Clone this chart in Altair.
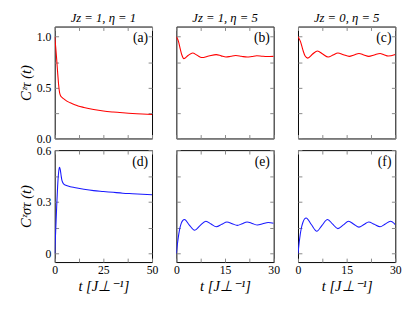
import altair as alt
import pandas as pd

# ---------------- data ----------------
t_a = [0, 0.5, 1, 1.5, 2, 2.5, 3, 4, 5, 6, 8, 10, 12, 15, 20, 25, 30, 35, 40, 45, 50]
c_a = [1.0, 0.90, 0.78, 0.65, 0.53, 0.45, 0.42, 0.40, 0.385, 0.37, 0.35, 0.335, 0.32,
       0.305, 0.285, 0.27, 0.26, 0.252, 0.245, 0.24, 0.236]

t_b = [0, 0.6, 1.2, 1.7, 2.3, 3.6, 5.0, 6.4, 7.8, 10.0, 12.3, 13.8, 15.3, 16.8, 18.3,
       20.0, 21.8, 23.3, 24.8, 26.3, 27.8, 30]
c_b = [1.0, 0.96, 0.88, 0.82, 0.785, 0.815, 0.84, 0.818, 0.795, 0.81, 0.824, 0.812, 0.80,
       0.808, 0.815, 0.808, 0.80, 0.806, 0.813, 0.809, 0.805, 0.807]

t_c = [0, 0.8, 1.5, 2.2, 3.0, 4.5, 6.0, 7.6, 9.3, 10.8, 12.3, 14.0, 15.8, 17.3, 18.8,
       20.3, 21.8, 23.5, 25.3, 26.5, 27.8, 30]
c_c = [1.0, 0.95, 0.87, 0.81, 0.79, 0.83, 0.86, 0.83, 0.80, 0.82, 0.84, 0.823, 0.807,
       0.821, 0.836, 0.821, 0.807, 0.821, 0.836, 0.823, 0.81, 0.825]

t_d = [0, 0.5, 1, 1.5, 2, 2.4, 2.8, 3.2, 3.6, 4, 4.5, 5, 6, 8, 10, 15, 20, 25, 30, 35, 40, 45, 50]
c_d = [0, 0.13, 0.27, 0.39, 0.47, 0.50, 0.49, 0.46, 0.43, 0.415, 0.405, 0.40, 0.395, 0.388,
       0.383, 0.373, 0.365, 0.36, 0.355, 0.35, 0.347, 0.344, 0.341]

t_e = [0, 0.5, 1.0, 1.5, 2.0, 2.5, 4.0, 5.6, 7.3, 9.1, 10.7, 12.3, 14.0, 15.6, 17.2, 18.8,
       20.3, 21.8, 23.4, 25.0, 26.6, 28.3, 30]
c_e = [0, 0.08, 0.14, 0.175, 0.192, 0.197, 0.165, 0.135, 0.162, 0.187, 0.171, 0.155, 0.169,
       0.183, 0.173, 0.163, 0.173, 0.183, 0.174, 0.165, 0.172, 0.18, 0.175]

t_f = [0, 0.5, 1.0, 1.5, 2.0, 2.5, 4.1, 5.8, 7.4, 9.1, 10.7, 12.3, 14.0, 15.6, 17.2, 18.8,
       20.3, 21.8, 23.5, 25.3, 26.9, 28.5, 30]
c_f = [0, 0.085, 0.145, 0.18, 0.2, 0.206, 0.168, 0.129, 0.163, 0.197, 0.17, 0.144, 0.166,
       0.187, 0.17, 0.153, 0.168, 0.183, 0.169, 0.155, 0.171, 0.187, 0.168]

col_titles = ["Jz = 1, η = 1", "Jz = 1, η = 5", "Jz = 0, η = 5"]
panel_labels = ["(a)", "(b)", "(c)", "(d)", "(e)", "(f)"]
ytitle_top = "Cᶻτ (t)"
ytitle_bot = "Cᶻστ (t)"
xtitle = "t [J⊥⁻¹]"

xlab_long = [0, 25, 50]
xtick_long = [0, 12.5, 25, 37.5, 50]
xlab_short = [0, 15, 30]
xtick_short = [0, 7.5, 15, 22.5, 30]
ylab_top = [0, 0.5, 1.0]
ytick_top = [0, 0.25, 0.5, 0.75, 1.0]
ylab_bot = [0, 0.3, 0.6]
ytick_bot = [0, 0.15, 0.3, 0.45, 0.6]

FONT = "Liberation Serif"
RED = "#ff0000"
BLUE = "#1a1aff"
W, H = 100, 115


def panel(t, c, color, xmax, xlabs, xticks, ydom, ylabs, yticks, label,
          title=None, ytitle=None, show_x=False, show_y=False, ylabexpr=None):
    df = pd.DataFrame({"t": t, "c": c})
    xs = alt.Scale(domain=[0, xmax], nice=False, zero=False)
    ys = alt.Scale(domain=ydom, nice=False, zero=False)

    if show_x:
        xax = alt.Axis(orient="bottom", values=xlabs, ticks=False, domain=False, grid=False,
                       labelFlush=False, labelOverlap=False, labelPadding=3, format="d",
                       title=xtitle, titlePadding=3, titleFontStyle="italic")
    else:
        xax = None
    if show_y:
        yargs = dict(orient="left", values=ylabs, ticks=False, domain=False, grid=False,
                     labelFlush=False, labelOverlap=False, labelPadding=4, format=".1f",
                     title=ytitle, titlePadding=3, titleFontStyle="italic")
        if ylabexpr:
            yargs["labelExpr"] = ylabexpr
        yax = alt.Axis(**yargs)
    else:
        yax = None

    main = alt.Chart(df).mark_line(color=color, strokeWidth=1.1, interpolate="monotone",
                                   clip=True).encode(
        x=alt.X("t:Q", scale=xs, axis=xax),
        y=alt.Y("c:Q", scale=ys, axis=yax),
    )

    tick_common = dict(labels=False, domain=False, grid=False, ticks=True, tickSize=4,
                       offset=-4, tickColor="#888888", tickWidth=1, title=None)
    tk1 = alt.Chart(df).mark_line(opacity=0).encode(
        x=alt.X("t:Q", scale=xs, axis=alt.Axis(orient="bottom", values=xticks, **tick_common)),
        y=alt.Y("c:Q", scale=ys, axis=alt.Axis(orient="left", values=yticks, **tick_common)),
    )
    tk2 = alt.Chart(df).mark_line(opacity=0).encode(
        x=alt.X("t:Q", scale=xs, axis=alt.Axis(orient="top", values=xticks, **tick_common)),
        y=alt.Y("c:Q", scale=ys, axis=alt.Axis(orient="right", values=yticks, **tick_common)),
    )
    txt = alt.Chart(pd.DataFrame({"lab": [label]})).mark_text(
        align="right", baseline="top", font=FONT, fontSize=14, color="black"
    ).encode(x=alt.value(W - 4), y=alt.value(5), text="lab:N")

    lay = alt.layer(main, tk1, tk2, txt).resolve_axis(x="independent", y="independent")
    props = dict(width=W, height=H)
    if title:
        props["title"] = alt.TitleParams(text=title, font=FONT, fontSize=13, fontStyle="italic",
                                         fontWeight="normal", offset=1, anchor="middle")
    return lay.properties(**props)


top_dom = [0, 1.1]
bot_dom = [-0.05, 0.6]
bot_expr = "datum.value == 0 ? '0' : format(datum.value, '.1f')"

pa = panel(t_a, c_a, RED, 50, xlab_long, xtick_long, top_dom, ylab_top, ytick_top,
           panel_labels[0], title=col_titles[0], ytitle=ytitle_top, show_y=True)
pb = panel(t_b, c_b, RED, 30, xlab_short, xtick_short, top_dom, ylab_top, ytick_top,
           panel_labels[1], title=col_titles[1])
pc = panel(t_c, c_c, RED, 30, xlab_short, xtick_short, top_dom, ylab_top, ytick_top,
           panel_labels[2], title=col_titles[2])
pd_ = panel(t_d, c_d, BLUE, 50, xlab_long, xtick_long, bot_dom, ylab_bot, ytick_bot,
            panel_labels[3], ytitle=ytitle_bot, show_x=True, show_y=True, ylabexpr=bot_expr)
pe = panel(t_e, c_e, BLUE, 30, xlab_short, xtick_short, bot_dom, ylab_bot, ytick_bot,
           panel_labels[4], show_x=True)
pf = panel(t_f, c_f, BLUE, 30, xlab_short, xtick_short, bot_dom, ylab_bot, ytick_bot,
           panel_labels[5], show_x=True)

chart = alt.concat(pa, pb, pc, pd_, pe, pf, columns=3,
                   spacing=alt.RowColnumber(row=12, column=25), bounds="flush").properties(
    padding={"left": 10, "top": 0, "right": 5, "bottom": 5}
).configure_view(
    stroke="black", strokeWidth=1
).configure_axis(
    labelFont=FONT, labelFontSize=12, labelColor="black",
    titleFont=FONT, titleFontSize=15, titleColor="black", titleFontWeight="normal"
).configure_title(font=FONT, fontSize=13, fontWeight="normal", color="black")

chart.save("out.html", embed_options={"renderer": "svg", "actions": False})
